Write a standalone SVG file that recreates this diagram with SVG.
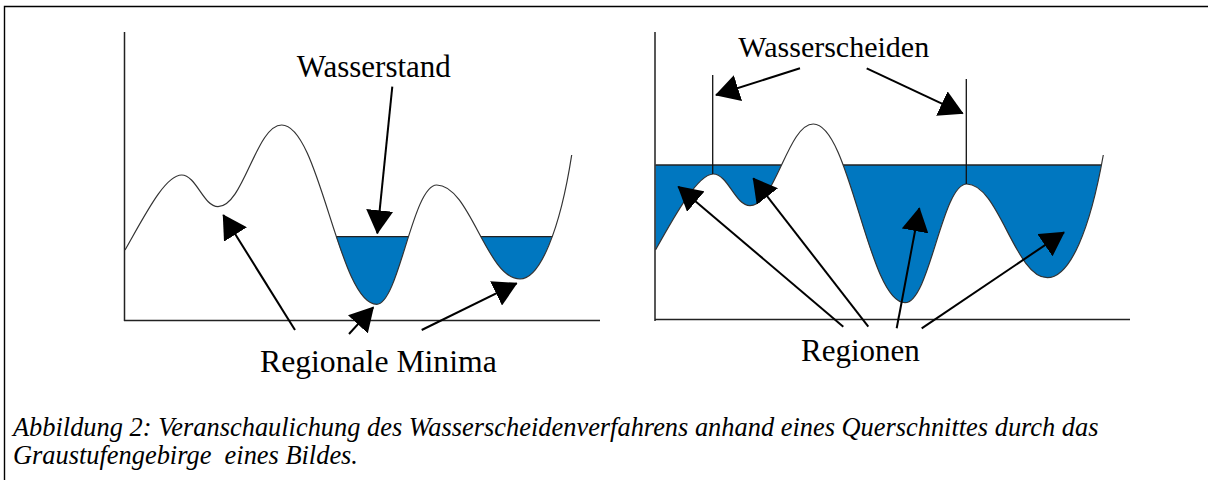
<svg xmlns="http://www.w3.org/2000/svg" width="1208" height="480" viewBox="0 0 1208 480">
<style>
.frame{fill:none;stroke:#000;stroke-width:1.4}
.axis{fill:none;stroke:#222;stroke-width:1.5}
.curve{fill:none;stroke:#333;stroke-width:1.2}
.water{fill:#0077c0}
.level{stroke:#222;stroke-width:1.3}
.wline{stroke:#111;stroke-width:1.3}
.arrow{fill:none;stroke:#000;stroke-width:2;marker-end:url(#head)}
.lbl{font-family:"Liberation Serif","Times New Roman",serif;fill:#000}
.cap{font-family:"Liberation Serif","Times New Roman",serif;font-style:italic;font-size:26.4px;fill:#000}
</style>
<defs>
<marker id="head" viewBox="0 0 24 27" refX="23" refY="13.5" markerUnits="userSpaceOnUse" markerWidth="24" markerHeight="27" orient="auto">
<path d="M0,0 L24,13.5 L0,27 Z" fill="#000"/>
</marker>
<path id="curveL" d="M125,250 C145,215 165,175 181.7,175 C196.2,175 203.5,206.7 218,206.7 C243.5,206.7 256.2,125 281.7,125 C319.7,125 338.7,304.3 376.7,304.3 C398.7,304.3 412.7,185 436.7,185 C470,185 486.7,279 520,279 C540,279 560,230 571.7,155"/>
<path id="curveR" d="M655.5,250 C675,215 698,174 713.3,174 C728,174 735.3,205.7 750,205.7 C775.3,205.7 788,124 813.3,124 C850,124 868.3,302.7 905,302.7 C929.7,302.7 942,184 966.7,184 C998.9,184 1015.1,277.7 1047.3,277.7 C1070,277.7 1090,230 1103.3,155"/>
<clipPath id="aboveL"><path d="M125,250 C145,215 165,175 181.7,175 C196.2,175 203.5,206.7 218,206.7 C243.5,206.7 256.2,125 281.7,125 C319.7,125 338.7,304.3 376.7,304.3 C398.7,304.3 412.7,185 436.7,185 C470,185 486.7,279 520,279 C540,279 560,230 571.7,155 L571.7,0 L125,0 Z"/></clipPath>
<clipPath id="aboveR"><path d="M655.5,250 C675,215 698,174 713.3,174 C728,174 735.3,205.7 750,205.7 C775.3,205.7 788,124 813.3,124 C850,124 868.3,302.7 905,302.7 C929.7,302.7 942,184 966.7,184 C998.9,184 1015.1,277.7 1047.3,277.7 C1070,277.7 1090,230 1103.3,155 L1103.3,0 L655.5,0 Z"/></clipPath>
</defs>

<path class="frame" d="M4.5,480 V6.5 H1208"/>

<g id="chart-left">
<g clip-path="url(#aboveL)">
<rect class="water" x="320" y="236.7" width="245" height="90"/>
<line class="level" x1="320" y1="236.7" x2="565" y2="236.7"/>
</g>
<path class="axis" d="M124.5,32 V321 M124,320.5 H600"/>
<use href="#curveL" class="curve"/>
</g>

<g id="chart-right">
<g clip-path="url(#aboveR)">
<rect class="water" x="655" y="165" width="447" height="160"/>
<line class="level" x1="655" y1="165" x2="1102" y2="165"/>
</g>
<path class="axis" d="M655,32 V321 M655,319.5 H1130"/>
<use href="#curveR" class="curve"/>
<line class="wline" x1="712.7" y1="75" x2="712.7" y2="174"/>
<line class="wline" x1="966.3" y1="79" x2="966.3" y2="184"/>
</g>

<g id="label-wasserstand"><text class="lbl" x="296.7" y="77.3" font-size="31">Wasserstand</text></g>
<g id="label-minima"><text class="lbl" x="260" y="371.7" font-size="31.7">Regionale Minima</text></g>
<g id="label-wasserscheiden"><text class="lbl" x="738.3" y="56.7" font-size="30">Wasserscheiden</text></g>
<g id="label-regionen"><text class="lbl" x="801" y="361" font-size="31">Regionen</text></g>

<g id="connectors">
<path class="arrow" d="M392.3,86.7 L377.3,233.3"/>
<path class="arrow" d="M295,330 L223.3,215"/>
<path class="arrow" d="M349,334 L373.3,307.3"/>
<path class="arrow" d="M421.7,330 L516.7,283.3"/>
<path class="arrow" d="M800,68.3 L716,95"/>
<path class="arrow" d="M866.7,68.3 L962.7,113.3"/>
<path class="arrow" d="M843.3,326.7 L678.3,186.7"/>
<path class="arrow" d="M868.3,326.7 L753.3,178.3"/>
<path class="arrow" d="M896.7,328.3 L919.3,208.3"/>
<path class="arrow" d="M921.7,328.3 L1064,232.3"/>
</g>

<g id="caption">
<text class="cap" x="13" y="436">Abbildung 2: Veranschaulichung des Wasserscheidenverfahrens anhand eines Querschnittes durch das</text>
<text class="cap" x="13" y="464" xml:space="preserve">Graustufengebirge  eines Bildes.</text>
</g>
</svg>
